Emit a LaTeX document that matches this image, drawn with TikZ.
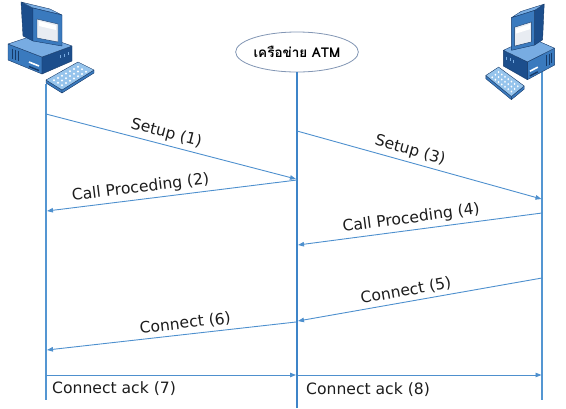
\documentclass[tikz,border=0pt]{standalone}
\usepackage{fontspec}
\setmainfont{DejaVu Sans}
\newfontfamily\thaifont[Script=Thai]{Loma}
\usetikzlibrary{arrows.meta,shapes.geometric}

\definecolor{lifeblue}{RGB}{84,150,210}
\definecolor{busblue}{RGB}{62,132,200}
\definecolor{msgblue}{RGB}{78,144,206}
\definecolor{ovalrim}{RGB}{130,150,180}
\definecolor{inkgray}{RGB}{28,28,28}
\definecolor{pcdark}{RGB}{28,78,140}
\definecolor{pcmid}{RGB}{58,122,190}
\definecolor{pclight}{RGB}{120,172,226}
\definecolor{pcscreen}{RGB}{232,236,242}
\definecolor{pcedge}{RGB}{22,58,105}
\definecolor{keyfill}{RGB}{150,196,236}

\tikzset{
  pcface/.style={fill=#1, draw=pcedge, line width=0.4pt, line join=round},
  lifeline/.style={draw=lifeblue, line width=1.2pt},
  busline/.style={draw=busblue, line width=2pt},
  msg/.style={draw=msgblue, line width=0.9pt, -{Triangle[length=6pt,width=4.5pt]}},
  lbl/.style={above, sloped, inner sep=3.5pt, text=inkgray, font=\fontsize{15.6}{18}\selectfont},
  acklbl/.style={anchor=base west, inner sep=0pt, text=inkgray, font=\fontsize{15.6}{18}\selectfont},
}

% desktop computer: base box, monitor and keyboard (local pixel coordinates)
\newcommand\drawpc{%
  % base box
  \filldraw[pcface=pcmid] (8,44) -- (42,57) -- (42,74) -- (8,60) -- cycle;
  \filldraw[pcface=pcdark] (42,57) -- (72,46) -- (72,61) -- (42,74) -- cycle;
  \filldraw[pcface=pclight] (8,44) -- (38,34) -- (72,46) -- (42,57) -- cycle;
  \foreach \v in {12,15,18} \draw[pcedge, line width=0.5pt] (\v,{47+(\v-8)*0.38}) -- (\v,{57+(\v-8)*0.38});
  \draw[white, line width=1.6pt] (29,62) -- (39,66);
  \draw[pcedge, line width=1.4pt] (29,66.5) -- (39,70.5);
  \foreach \v in {60,64,68} \draw[pclight, line width=0.5pt] (\v,{55-(\v-60)*0.37}) -- (\v,{58-(\v-60)*0.37});
  % monitor
  \filldraw[pcface=pcdark] (21,2) -- (33,8) -- (33,41) -- (23,36) -- cycle;
  \filldraw[pcface=pclight] (21,2) -- (50,9) -- (62,15) -- (33,8) -- cycle;
  \filldraw[pcface=pcmid] (33,8) -- (62,15) -- (62,46) -- (33,41) -- cycle;
  \filldraw[fill=pcscreen, draw=pcedge, line width=0.4pt] (37,19) -- (58,24) -- (58,42) -- (37,38) -- cycle;
  \fill[white] (39,21) -- (56,25.5) -- (56,30) -- (39,26) -- cycle;
  % keyboard
  \filldraw[pcface=pcmid] (46,80) -- (62,90) -- (62,93) -- (46,83) -- cycle;
  \filldraw[pcface=pcmid] (62,90) -- (94,70) -- (94,73) -- (62,93) -- cycle;
  \filldraw[pcface=keyfill] (46,80) -- (78,62) -- (94,70) -- (62,90) -- cycle;
  \foreach \i in {1,...,7} \foreach \j in {1,2,3}
    \fill[white] ({46+\i*4+\j*4},{80-\i*2.25+\j*2.5}) circle (1.1);
}

\begin{document}
\begin{tikzpicture}[x=1pt, y=-1pt]
\useasboundingbox (0,0) rectangle (566,408);

% lifeline end points
\coordinate (Ltop) at (46,84);
\coordinate (Lbot) at (46,400);
\coordinate (Rtop) at (542,72);
\coordinate (Rbot) at (542,400);
\coordinate (Mbot) at (297,408);

% network node
\node[ellipse, draw=ovalrim, fill=white, line width=0.8pt, minimum width=110pt,
      minimum height=40pt, inner sep=0pt] (atm) at (297,52)
      {\thaifont\bfseries\fontsize{13.5}{15}\selectfont เครือข่าย ATM};

\draw[lifeline] (Ltop) -- (Lbot);
\draw[lifeline] (Rtop) -- (Rbot);
\draw[busline] (atm.south) -- (Mbot);

% message end points
\coordinate (s1) at (46,114);   \coordinate (e1) at (296,179);
\coordinate (s2) at (297,180);  \coordinate (e2) at (47,211);
\coordinate (s3) at (297,131);  \coordinate (e3) at (541.5,199);
\coordinate (s4) at (542,213);  \coordinate (e4) at (298,245);
\coordinate (s5) at (542,278);  \coordinate (e5) at (298,321);
\coordinate (s6) at (296,322);  \coordinate (e6) at (47,350);
\coordinate (s7) at (46,375);   \coordinate (e7) at (296,375);
\coordinate (s8) at (298,375);  \coordinate (e8) at (541.5,375);

\draw[msg] (s1) -- node[lbl, pos=0.47] (t1) {Setup (1)} (e1);
\draw[msg] (s2) -- node[lbl, pos=0.62] (t2) {Call Proceding (2)} (e2);
\draw[msg] (s3) -- node[lbl, pos=0.45] (t3) {Setup (3)} (e3);
\draw[msg] (s4) -- node[lbl, pos=0.53] (t4) {Call Proceding (4)} (e4);
\draw[msg] (s5) -- node[lbl, pos=0.55] (t5) {Connect (5)} (e5);
\draw[msg] (s6) -- node[lbl, pos=0.44] (t6) {Connect (6)} (e6);
\draw[msg] (s7) -- (e7);
\draw[msg] (s8) -- (e8);
\node[acklbl] (t7) at (52,393) {Connect ack (7)};
\node[acklbl] (t8) at (306,394) {Connect ack (8)};

% end stations
\begin{scope}
  \drawpc
\end{scope}
\begin{scope}[shift={(561,2)}, xscale=-0.8, yscale=1.05]
  \drawpc
\end{scope}
\end{tikzpicture}
\end{document}
